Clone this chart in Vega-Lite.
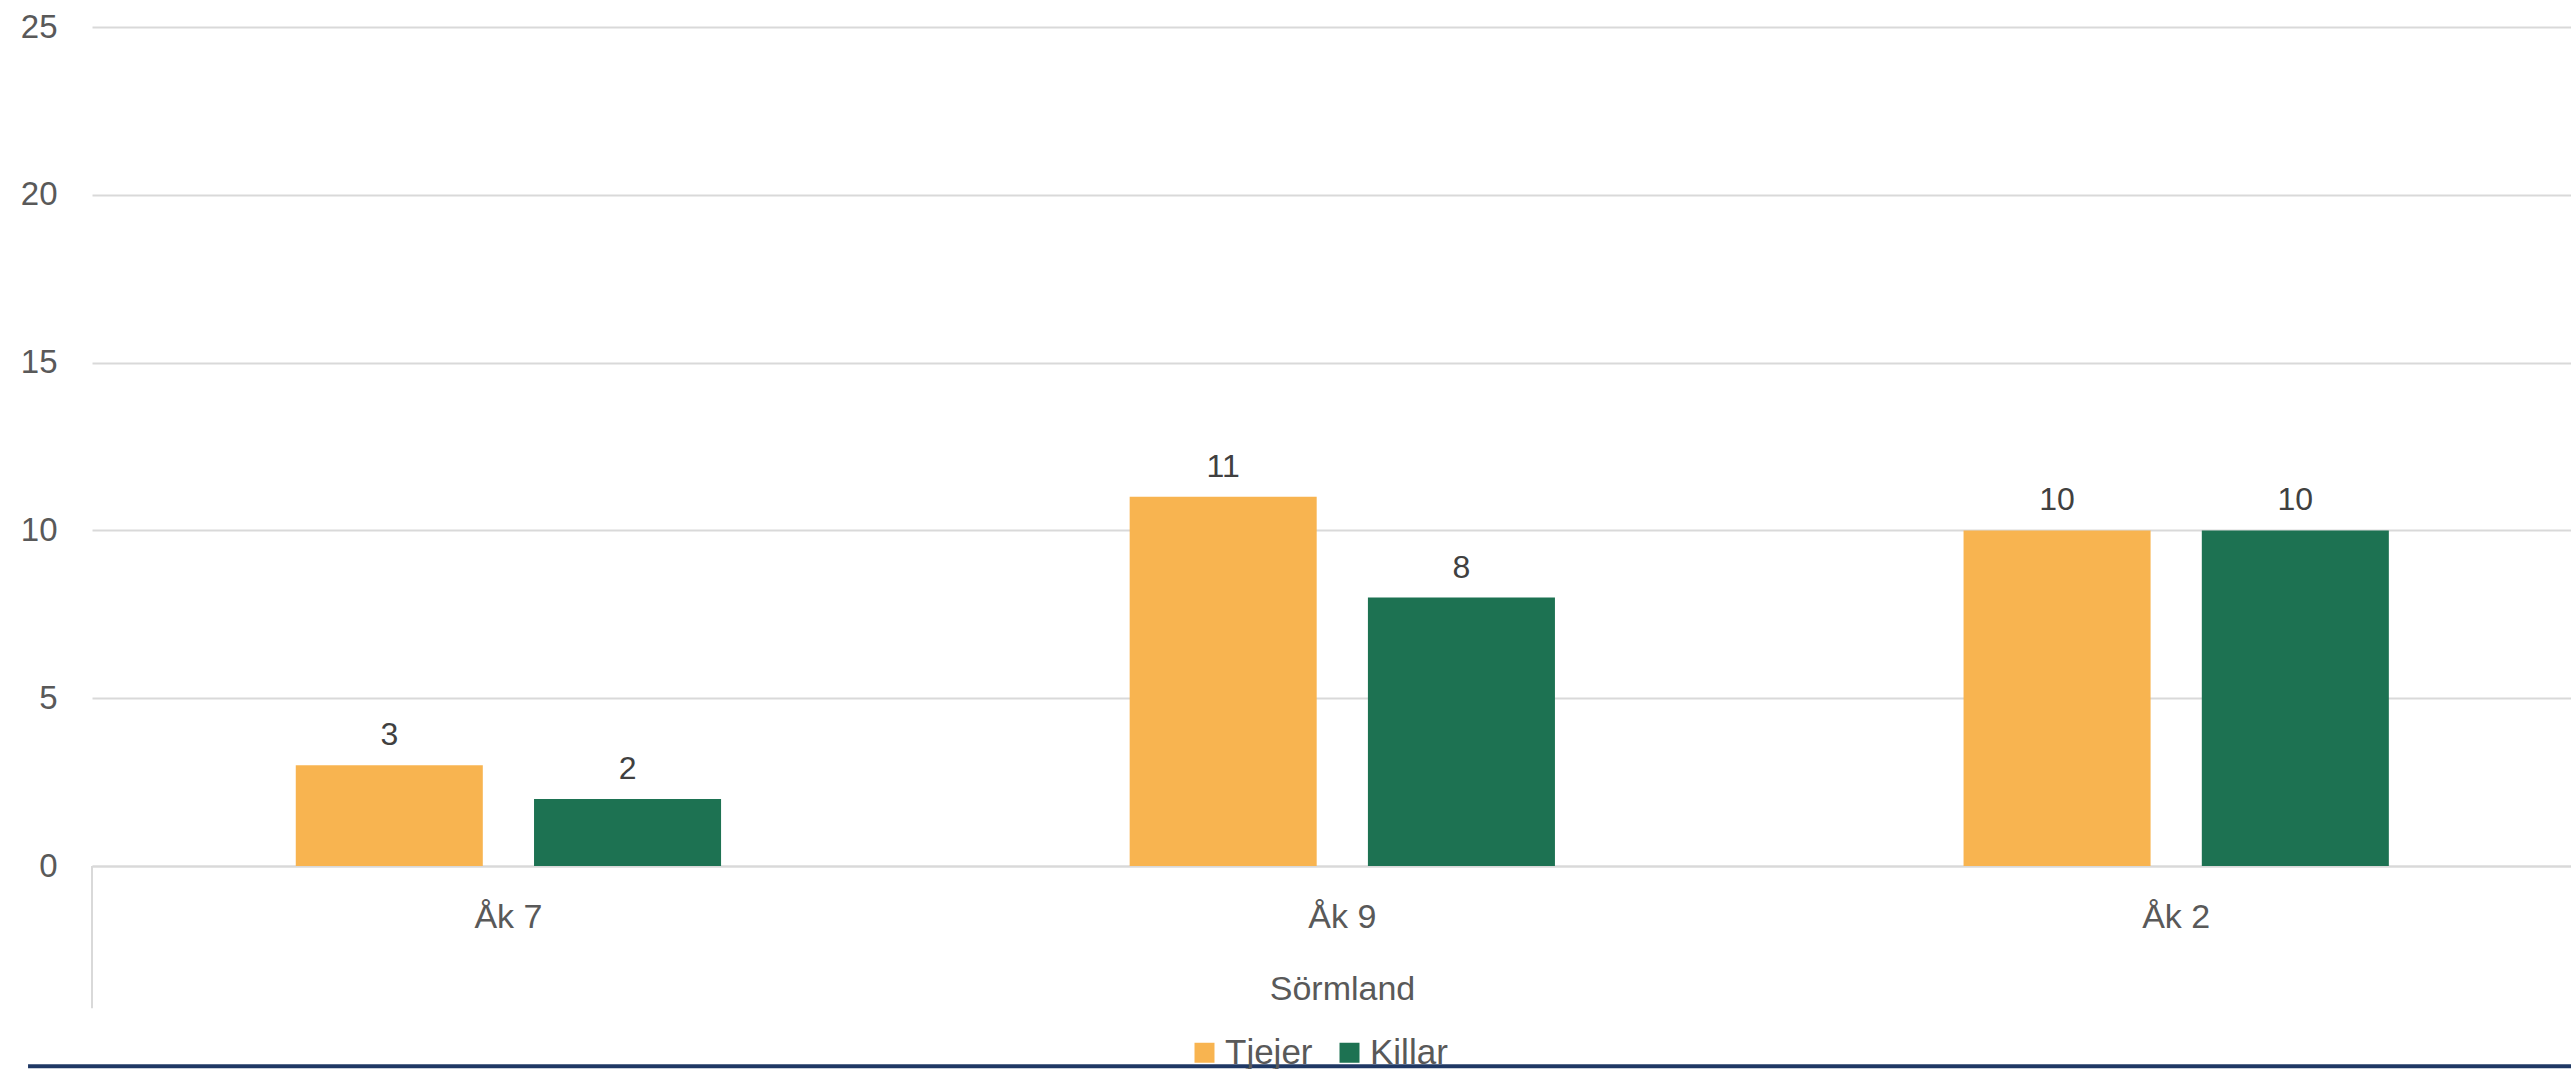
{
  "$schema": "https://vega.github.io/schema/vega-lite/v6.json",
  "autosize": {"type": "none"},
  "width": 2479,
  "height": 839,
  "padding": {"left": 92, "top": 27, "right": 0, "bottom": 203},
  "background": "white",
  "config": {
    "font": "Liberation Sans",
    "view": {"stroke": null}
  },
  "resolve": {"scale": {"x": "independent"}},
  "data": {
    "values": [
      {"grade": "Åk 7", "gender": "Tjejer", "value": 3},
      {"grade": "Åk 7", "gender": "Killar", "value": 2},
      {"grade": "Åk 9", "gender": "Tjejer", "value": 11},
      {"grade": "Åk 9", "gender": "Killar", "value": 8},
      {"grade": "Åk 2", "gender": "Tjejer", "value": 10},
      {"grade": "Åk 2", "gender": "Killar", "value": 10}
    ]
  },
  "layer": [
    {
      "layer": [
        {
          "mark": {"type": "bar"},
          "encoding": {
            "x": {
              "field": "grade",
              "type": "nominal",
              "sort": ["Åk 7", "Åk 9", "Åk 2"],
              "scale": {"paddingInner": 0.49, "paddingOuter": 0.2314, "align": 0.528},
              "axis": {
                "title": "Sörmland",
                "titleFont": "Liberation Sans",
                "titleFontSize": 34,
                "titleFontWeight": "normal",
                "titleColor": "#595959",
                "titleX": 1250,
                "titleY": 133,
                "titleAlign": "center",
                "titleBaseline": "alphabetic",
                "labelAngle": 0,
                "labelFontSize": 34,
                "labelColor": "#595959",
                "labelBaseline": "alphabetic",
                "labelPadding": 61,
                "ticks": false,
                "domainColor": "#d9d9d9",
                "domainWidth": 2,
                "grid": false
              }
            },
            "xOffset": {
              "field": "gender",
              "type": "nominal",
              "sort": ["Tjejer", "Killar"],
              "scale": {"paddingInner": 0.215, "paddingOuter": 0}
            },
            "y": {
              "field": "value",
              "type": "quantitative",
              "scale": {"domain": [0, 25], "nice": false},
              "axis": {
                "title": null,
                "values": [0, 5, 10, 15, 20, 25],
                "labelFontSize": 33,
                "labelColor": "#595959",
                "labelPadding": 35,
                "ticks": false,
                "domain": false,
                "gridColor": "#d9d9d9",
                "gridWidth": 2
              }
            },
            "color": {
              "field": "gender",
              "type": "nominal",
              "sort": ["Tjejer", "Killar"],
              "scale": {"domain": ["Tjejer", "Killar"], "range": ["#F8B450", "#1D7252"]},
              "legend": {
                "title": null,
                "orient": "none",
                "legendX": 1095,
                "legendY": 1008,
                "direction": "horizontal",
                "symbolType": "square",
                "symbolSize": 400,
                "symbolStrokeWidth": 0,
                "labelFontSize": 35,
                "labelColor": "#595959",
                "labelOffset": 3,
                "columnPadding": 19,
                "padding": 0
              }
            }
          }
        },
        {
          "mark": {"type": "text", "baseline": "alphabetic", "dy": -20, "fontSize": 32, "color": "#404040"},
          "encoding": {
            "x": {"field": "grade", "type": "nominal", "sort": ["Åk 7", "Åk 9", "Åk 2"]},
            "xOffset": {"field": "gender", "type": "nominal", "sort": ["Tjejer", "Killar"]},
            "y": {"field": "value", "type": "quantitative"},
            "text": {"field": "value", "type": "quantitative"}
          }
        }
      ]
    },
    {
      "data": {"values": [{"edge": 0, "top": 0, "bottom": -4.24}]},
      "mark": {"type": "rule", "color": "#d9d9d9", "strokeWidth": 2, "clip": false},
      "encoding": {
        "x": {"field": "edge", "type": "quantitative", "scale": {"domain": [0, 1]}, "axis": null},
        "y": {"field": "top", "type": "quantitative"},
        "y2": {"field": "bottom"}
      }
    },
    {
      "data": {"values": [{"bottom": -5.97, "start": -0.0258, "end": 1}]},
      "mark": {"type": "rule", "color": "#1F3864", "strokeWidth": 4, "clip": false},
      "encoding": {
        "x": {"field": "start", "type": "quantitative", "scale": {"domain": [0, 1]}, "axis": null},
        "x2": {"field": "end"},
        "y": {"field": "bottom", "type": "quantitative"}
      }
    }
  ]
}
